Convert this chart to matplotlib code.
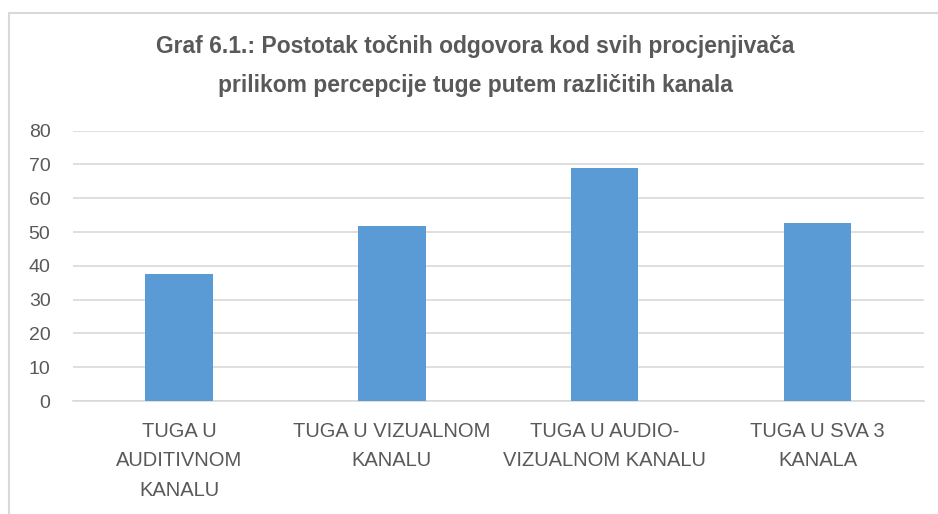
import matplotlib
matplotlib.use("Agg")
import matplotlib.pyplot as plt
from matplotlib.patches import Rectangle

TITLE = "Graf 6.1.: Postotak točnih odgovora kod svih procjenjivača\nprilikom percepcije tuge putem različitih kanala"

CATEGORIES = ["TUGA U\nAUDITIVNOM\nKANALU", "TUGA U VIZUALNOM\nKANALU",
              "TUGA U AUDIO-\nVIZUALNOM KANALU", "TUGA U SVA 3\nKANALA"]
VALUES = [37.7, 51.7, 68.9, 52.8]
YTICKS = [0, 10, 20, 30, 40, 50, 60, 70, 80]

BAR = '#5B9BD5'
TEXT = '#595959'
GRID = '#D9D9D9'

# no calibri here, liberation sans is close enough
plt.rcParams['font.family'] = ['Liberation Sans', 'DejaVu Sans']


def plotBars(ax):
    x = range(len(VALUES))
    ax.bar(x, VALUES, width=0.317, color=BAR, zorder=3)
    ax.set_xlim(-0.5, len(VALUES) - 0.5)
    ax.set_ylim(0, 80)
    ax.set_yticks(YTICKS)
    ax.set_yticklabels([str(t) for t in YTICKS], color=TEXT, fontsize=14)
    ax.set_xticks(list(x))
    ax.set_xticklabels(CATEGORIES, color=TEXT, fontsize=14.5, linespacing=1.7)
    ax.tick_params(axis='both', length=0)
    ax.tick_params(axis='x', pad=15)
    ax.tick_params(axis='y', pad=16)
    ax.grid(axis='y', color=GRID, lw=1.2, zorder=0)
    for s in ['top', 'right', 'left']:
        ax.spines[s].set_visible(False)
    ax.spines['bottom'].set_color(GRID)
    ax.spines['bottom'].set_linewidth(1.2)


fig = plt.figure(figsize=(9.38, 5.14), dpi=100)
ax = fig.add_axes([0.0775, 0.2198, 0.9075, 0.5259])
plotBars(ax)

fig.text(0.507, 0.8716, TITLE, ha='center', va='center', fontsize=16.5,
         fontweight='bold', color=TEXT, linespacing=1.85)

# chart frame, runs off the right and bottom of the picture
fig.patches.append(Rectangle((8.5 / 938, -0.1), 1.2, 1 - 12.5 / 514 + 0.1,
                             transform=fig.transFigure, fill=False,
                             edgecolor=GRID, lw=1.5))

fig.savefig('out.png', dpi=100)
